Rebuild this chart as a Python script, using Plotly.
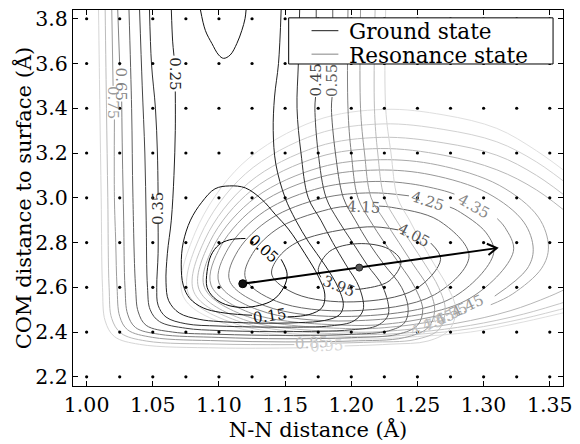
import math
import plotly.graph_objects as go

# ---------------------------------------------------------------
# Sampling grid of the two potential energy surfaces
# ---------------------------------------------------------------
grid_x = [1.000, 1.025, 1.050, 1.075, 1.100, 1.125, 1.150, 1.175,
          1.200, 1.225, 1.250, 1.275, 1.300, 1.325, 1.350]
grid_y = [2.2, 2.4, 2.6, 2.8, 3.0, 3.2, 3.4, 3.6, 3.8]

x_ticks = [1.00, 1.05, 1.10, 1.15, 1.20, 1.25, 1.30, 1.35]
x_ticktext = ["1.00", "1.05", "1.10", "1.15", "1.20", "1.25", "1.30", "1.35"]
y_ticks = [2.2, 2.4, 2.6, 2.8, 3.0, 3.2, 3.4, 3.6, 3.8]
y_ticktext = ["2.2", "2.4", "2.6", "2.8", "3.0", "3.2", "3.4", "3.6", "3.8"]

GAP = None  # break in an isoline where its inline label sits

# ---------------------------------------------------------------
# Ground state isolines (eV), traced (x = N-N, y = COM height)
# ---------------------------------------------------------------
ground_005 = [(1.147, 2.725), (1.1515, 2.66), (1.149, 2.60), (1.14, 2.54), (1.12, 2.51),
              (1.105, 2.523), (1.096, 2.555), (1.091, 2.60), (1.091, 2.67), (1.094, 2.743),
              (1.10, 2.79), (1.108, 2.812), (1.12, 2.818)]
ground_015 = [(1.152, 2.468), (1.168, 2.478), (1.178, 2.51), (1.18, 2.57), (1.175, 2.65),
              (1.165, 2.75), (1.1525, 2.86), (1.1425, 2.926), (1.1325, 2.992), (1.12, 3.044),
              (1.108, 3.053), (1.097, 3.04), (1.087, 2.98), (1.0785, 2.90), (1.073, 2.80),
              (1.0715, 2.70), (1.073, 2.61), (1.078, 2.55), (1.088, 2.508), (1.101, 2.488),
              (1.114, 2.479), (1.125, 2.475), GAP,
              (1.086, 3.84), (1.0897, 3.748), (1.0947, 3.689), (1.0998, 3.638), (1.1035, 3.623),
              (1.1085, 3.638), (1.1135, 3.689), (1.1173, 3.748), (1.1197, 3.80), (1.1205, 3.84)]
ground_025 = [(1.064, 3.84), (1.065, 3.70), (1.066, 3.635), GAP, (1.067, 3.475), (1.067, 3.30),
              (1.066, 3.10), (1.064, 2.90), (1.061, 2.75), (1.060, 2.62), (1.062, 2.54),
              (1.070, 2.485), (1.085, 2.457), (1.10, 2.447), (1.13, 2.44), (1.16, 2.442),
              (1.18, 2.452), (1.191, 2.477), (1.194, 2.52), (1.19, 2.60), (1.18, 2.70),
              (1.168, 2.80), (1.158, 2.90), (1.15, 3.00), (1.143, 3.15), (1.141, 3.30),
              (1.142, 3.45), (1.145, 3.60), (1.147, 3.84)]
ground_035 = [(1.0475, 3.84), (1.049, 3.60), (1.052, 3.40), (1.0535, 3.20), (1.054, 3.015), GAP,
              (1.054, 2.885), (1.054, 2.75), (1.053, 2.60), (1.054, 2.52), (1.06, 2.467),
              (1.075, 2.437), (1.10, 2.427), (1.15, 2.422), (1.185, 2.428), (1.202, 2.45),
              (1.209, 2.50), (1.206, 2.60), (1.196, 2.70), (1.186, 2.80), (1.177, 2.90),
              (1.1675, 3.00), (1.162, 3.20), (1.159, 3.40), (1.16, 3.60), (1.161, 3.84)]
ground_045 = [(1.040, 3.84), (1.042, 3.50), (1.044, 3.20), (1.045, 2.90), (1.046, 2.60),
              (1.048, 2.50), (1.055, 2.447), (1.075, 2.417), (1.10, 2.407), (1.15, 2.402),
              (1.20, 2.41), (1.22, 2.43), (1.228, 2.48), (1.224, 2.60), (1.212, 2.70),
              (1.201, 2.80), (1.19, 2.90), (1.181, 3.00), (1.175, 3.20), (1.1725, 3.40),
              (1.173, 3.45), GAP, (1.1735, 3.60), (1.1735, 3.84)]
ground_055 = [(1.032, 3.84), (1.034, 3.40), (1.035, 3.00), (1.037, 2.60), (1.039, 2.49),
              (1.045, 2.43), (1.065, 2.40), (1.10, 2.39), (1.15, 2.385), (1.20, 2.39),
              (1.228, 2.405), (1.24, 2.44), (1.243, 2.50), (1.238, 2.60), (1.225, 2.70),
              (1.213, 2.80), (1.203, 2.90), (1.194, 3.00), (1.188, 3.20), (1.185, 3.40),
              (1.1855, 3.45), GAP, (1.186, 3.60), (1.186, 3.84)]
ground_065 = [(1.0235, 3.84), (1.025, 3.59), GAP, (1.0265, 3.43), (1.027, 3.20), (1.028, 2.90),
              (1.029, 2.60), (1.031, 2.48), (1.037, 2.42), (1.055, 2.39), (1.10, 2.376),
              (1.15, 2.37), (1.20, 2.375), (1.235, 2.39), (1.25, 2.43), (1.254, 2.50),
              (1.248, 2.60), (1.237, 2.70), (1.225, 2.80), (1.214, 2.90), (1.205, 3.00),
              (1.20, 3.20), (1.1975, 3.40), (1.1975, 3.84)]
ground_075 = [(1.019, 3.84), (1.02, 3.50), GAP, (1.021, 3.35), (1.021, 3.00), (1.022, 2.80),
              (1.023, 2.60), (1.025, 2.47), (1.031, 2.41), (1.05, 2.376), (1.10, 2.361),
              (1.15, 2.356), (1.20, 2.36), (1.24, 2.375), (1.258, 2.42), (1.263, 2.50),
              (1.258, 2.60), (1.247, 2.70), (1.236, 2.80), (1.225, 2.90), (1.215, 3.00),
              (1.21, 3.20), (1.207, 3.40), (1.207, 3.84)]
ground_085 = [(1.014, 3.84), (1.015, 3.40), (1.016, 3.00), (1.017, 2.60), (1.019, 2.46),
              (1.026, 2.395), (1.045, 2.36), (1.10, 2.346), (1.157, 2.344), GAP,
              (1.184, 2.35), (1.215, 2.355), (1.248, 2.366), (1.266, 2.41), (1.271, 2.50),
              (1.266, 2.60), (1.256, 2.70), (1.245, 2.80), (1.234, 2.90), (1.225, 3.00),
              (1.22, 3.20), (1.2175, 3.40), (1.218, 3.84)]
ground_095 = [(1.009, 3.84), (1.010, 3.40), (1.011, 3.00), (1.012, 2.60), (1.014, 2.45),
              (1.021, 2.38), (1.04, 2.345), (1.10, 2.329), (1.167, 2.33), GAP,
              (1.195, 2.338), (1.23, 2.346), (1.258, 2.36), (1.274, 2.41), (1.279, 2.50),
              (1.273, 2.60), (1.263, 2.70), (1.253, 2.80), (1.244, 2.90), (1.235, 3.00),
              (1.23, 3.20), (1.226, 3.40), (1.226, 3.84)]

ground_levels = ["0.05", "0.15", "0.25", "0.35", "0.45", "0.55", "0.65", "0.75", "0.85", "0.95"]
ground_paths = [ground_005, ground_015, ground_025, ground_035, ground_045,
                ground_055, ground_065, ground_075, ground_085, ground_095]
ground_colors = ["#000000", "#121212", "#222222", "#303030", "#444444",
                 "#5e5e5e", "#828282", "#9c9c9c", "#bcbcbc", "#d6d6d6"]
ground_label_xy = [(1.134, 2.772), (1.1385, 2.470), (1.067, 3.555), (1.054, 2.950), (1.1735, 3.525),
                   (1.186, 3.525), (1.026, 3.510), (1.0205, 3.425), (1.170, 2.349), (1.181, 2.336)]
ground_label_angle = [42, -8, 90, -90, -90, -90, 90, 90, -3, -3]

# ---------------------------------------------------------------
# Resonance state isolines (eV)
# ---------------------------------------------------------------
res_395 = [(1.177, 2.645), (1.175, 2.68), (1.1838, 2.7613), (1.205, 2.795), (1.228, 2.772),
           (1.2375, 2.715), (1.2286, 2.628), (1.207, 2.592), (1.203, 2.5915)]
res_405 = [(1.2601, 2.7975), (1.2675, 2.725), (1.2483, 2.5907), (1.202, 2.535), (1.1582, 2.5702),
           (1.14, 2.655), (1.1443, 2.7285), (1.1611, 2.807), (1.212, 2.87), (1.2355, 2.8564)]
res_415 = [(1.221, 2.9628), (1.2305, 2.9573), (1.2659, 2.899), (1.289, 2.74), (1.2629, 2.5668),
           (1.2, 2.495), (1.1434, 2.5375), (1.12, 2.64), (1.1254, 2.751), (1.1464, 2.8698),
           (1.1867, 2.9539), (1.1975, 2.9618)]
res_425 = [(1.2745, 2.9584), (1.2804, 2.9423), (1.302, 2.843), (1.3075, 2.75), (1.276, 2.552),
           (1.2, 2.47), (1.1349, 2.5169), (1.108, 2.63), (1.1144, 2.764), (1.1393, 2.9072),
           (1.1784, 2.9985), (1.215, 3.022), (1.2436, 3.0087)]
res_435 = [(1.3103, 2.9068), (1.3162, 2.867), (1.3225, 2.76), (1.2866, 2.5408), (1.2, 2.45),
           (1.1293, 2.4998), (1.10, 2.62), (1.1071, 2.7749), (1.1346, 2.9403), (1.1776, 3.0457),
           (1.218, 3.073), (1.245, 3.0623), (1.2703, 3.0311), (1.278, 3.0163)]
res_445 = [(1.3084, 2.5606), (1.3328, 2.6819), (1.3375, 2.77), (1.3304, 2.891), (1.3031, 3.0203),
           (1.2602, 3.1027), (1.22, 3.124), (1.1769, 3.093), (1.1309, 2.9734), (1.1016, 2.7858),
           (1.094, 2.61), (1.125, 2.4827), (1.2, 2.43), (1.2356, 2.4416), (1.2749, 2.4848)]
res_455 = [(1.3054, 2.5219), (1.322, 2.5705), (1.3439, 2.6855), (1.349, 2.78), (1.3414, 2.9134),
           (1.3118, 3.0558), (1.2654, 3.1465), (1.222, 3.17), (1.1765, 3.1358), (1.128, 3.003),
           (1.097, 2.795), (1.089, 2.60), (1.1215, 2.4692), (1.2, 2.415), (1.2386, 2.4274),
           (1.263, 2.4493)]
res_465 = [(1.37, 2.90), (1.34, 3.035), (1.31, 3.125), (1.27, 3.19), (1.222, 3.22),
           (1.1751, 3.182), (1.1251, 3.0355), (1.0933, 2.8055), (1.085, 2.59), (1.1187, 2.4557),
           (1.2, 2.40), (1.24, 2.41), (1.28, 2.44), (1.32, 2.495), (1.35, 2.56), (1.37, 2.615)]
res_475 = [(1.37, 2.97), (1.34, 3.10), (1.31, 3.19), (1.27, 3.245), (1.223, 3.27),
           (1.1744, 3.2284), (1.1226, 3.0679), (1.0896, 2.816), (1.081, 2.58), (1.1159, 2.4457),
           (1.2, 2.39), (1.25, 2.40), (1.29, 2.43), (1.33, 2.48), (1.37, 2.55)]
res_485 = [(1.37, 3.03), (1.34, 3.16), (1.31, 3.25), (1.27, 3.305), (1.224, 3.33),
           (1.1737, 3.2842), (1.1201, 3.1074), (1.0859, 2.8299), (1.077, 2.57), (1.113, 2.4357),
           (1.2, 2.38), (1.25, 2.39), (1.29, 2.415), (1.33, 2.46), (1.37, 2.52)]
res_495 = [(1.37, 3.08), (1.34, 3.21), (1.31, 3.31), (1.27, 3.37), (1.225, 3.395),
           (1.173, 3.3447), (1.1175, 3.1504), (1.0821, 2.8456), (1.073, 2.56), (1.1102, 2.4257),
           (1.2, 2.37), (1.25, 2.38), (1.29, 2.40), (1.33, 2.445), (1.37, 2.50)]

res_levels = ["3.95", "4.05", "4.15", "4.25", "4.35", "4.45", "4.55", "4.65", "4.75", "4.85", "4.95"]
res_paths = [res_395, res_405, res_415, res_425, res_435, res_445,
             res_455, res_465, res_475, res_485, res_495]
res_colors = ["#404040", "#555555", "#686868", "#787878", "#888888", "#989898",
              "#a8a8a8", "#b7b7b7", "#c5c5c5", "#d2d2d2", "#dfdfdf"]
res_label_xy = [(1.190, 2.604), (1.247, 2.832), (1.209, 2.958), (1.2575, 2.985), (1.292, 2.962),
                (1.288, 2.515), (1.276, 2.480), (1.266, 2.452), (1.257, 2.428), None, None]
res_label_angle = [22, 28, 3, 18, 30, -25, -25, -22, -20, 0, 0]

# Minima and the displacement between them
ground_min = (1.118, 2.616)
res_min = (1.206, 2.688)
arrow_tip = (1.31, 2.775)

legend_names = ["Ground state", "Resonance state"]
legend_colors = ["#444444", "#999999"]

# ---------------------------------------------------------------
X_RANGE = [0.9897, 1.360]
Y_RANGE = [2.159, 3.839]
W, H = 580, 444
M = dict(l=73, r=14, t=7, b=54)
SERIF = "DejaVu Serif"
plot_w = W - M["l"] - M["r"]
plot_h = H - M["t"] - M["b"]

fig = go.Figure()


def add_path(path, color, width=1.0):
    xs = [p[0] if p is not None else None for p in path]
    ys = [p[1] if p is not None else None for p in path]
    fig.add_trace(go.Scatter(x=xs, y=ys, mode="lines",
                             line=dict(color=color, width=width, shape="spline", smoothing=1.0),
                             connectgaps=False, showlegend=False, hoverinfo="skip"))


for path, col in zip(res_paths, res_colors):
    add_path(path, col)
for path, col in zip(ground_paths, ground_colors):
    add_path(path, col)

# inline isoline labels
for txt, pos, ang, col in zip(res_levels, res_label_xy, res_label_angle, res_colors):
    if pos is None:
        continue
    fig.add_annotation(x=pos[0], y=pos[1], text=txt, showarrow=False, textangle=ang,
                       font=dict(family=SERIF, size=15, color=col))
for txt, pos, ang, col in zip(ground_levels, ground_label_xy, ground_label_angle, ground_colors):
    fig.add_annotation(x=pos[0], y=pos[1], text=txt, showarrow=False, textangle=ang,
                       font=dict(family=SERIF, size=15, color=col))

# sample points
gx, gy = [], []
for yv in grid_y:
    for xv in grid_x:
        gx.append(xv)
        gy.append(yv)
fig.add_trace(go.Scatter(x=gx, y=gy, mode="markers",
                         marker=dict(color="black", size=3.2),
                         showlegend=False, hoverinfo="skip"))

# displacement arrow (shaft + open head built in screen space)
fig.add_trace(go.Scatter(x=[ground_min[0], arrow_tip[0]], y=[ground_min[1], arrow_tip[1]],
                         mode="lines", line=dict(color="black", width=2),
                         showlegend=False, hoverinfo="skip"))
sx = plot_w / (X_RANGE[1] - X_RANGE[0])
sy = plot_h / (Y_RANGE[1] - Y_RANGE[0])
ang = math.atan2((arrow_tip[1] - ground_min[1]) * sy, (arrow_tip[0] - ground_min[0]) * sx)
head_len, head_half = 11.0, math.radians(32)
hx, hy = [], []
for s in (1, -1):
    a = ang + math.pi + s * head_half
    hx.append(arrow_tip[0] + head_len * math.cos(a) / sx)
    hy.append(arrow_tip[1] + head_len * math.sin(a) / sy)
fig.add_trace(go.Scatter(x=[hx[0], arrow_tip[0], hx[1]], y=[hy[0], arrow_tip[1], hy[1]],
                         mode="lines", line=dict(color="black", width=2),
                         showlegend=False, hoverinfo="skip"))

# the two minima
fig.add_trace(go.Scatter(x=[ground_min[0]], y=[ground_min[1]], mode="markers",
                         marker=dict(color="#111111", size=8, line=dict(color="black", width=1)),
                         showlegend=False, hoverinfo="skip"))
fig.add_trace(go.Scatter(x=[res_min[0]], y=[res_min[1]], mode="markers",
                         marker=dict(color="#555555", size=7, line=dict(color="#222222", width=1)),
                         showlegend=False, hoverinfo="skip"))


# legend box drawn in pixel space of the plot area
def px_x(p):
    return (p - M["l"]) / plot_w


def px_y(p):
    return (H - M["b"] - p) / plot_h


fig.add_shape(type="rect", xref="paper", yref="paper", layer="above",
              x0=px_x(290), x1=px_x(556), y0=px_y(62), y1=px_y(15),
              fillcolor="white", line=dict(color="black", width=1))
for i, (name, col) in enumerate(zip(legend_names, legend_colors)):
    row = 28 + 24 * i
    fig.add_shape(type="line", xref="paper", yref="paper", layer="above",
                  x0=px_x(313), x1=px_x(340), y0=px_y(row), y1=px_y(row),
                  line=dict(color=col, width=1.2))
    fig.add_annotation(xref="paper", yref="paper", x=px_x(349), y=px_y(row + 1),
                       xanchor="left", yanchor="middle", text=name, showarrow=False,
                       font=dict(family=SERIF, size=21.5, color="black"))

# y-axis title
fig.add_annotation(xref="paper", yref="paper", x=px_x(23), y=0.5, textangle=-90,
                   xanchor="center", yanchor="middle", showarrow=False,
                   text="COM distance to surface (Å)",
                   font=dict(family=SERIF, size=21, color="black"))

axis_common = dict(showgrid=False, zeroline=False, showline=True, linecolor="black",
                   linewidth=1.3, mirror="ticks", ticks="inside", ticklen=5, tickwidth=1,
                   tickcolor="black", tickfont=dict(family=SERIF, size=20.5, color="black"))

fig.update_layout(
    width=W, height=H, margin=M, autosize=False,
    paper_bgcolor="white", plot_bgcolor="white",
    xaxis=dict(range=X_RANGE, tickvals=x_ticks, ticktext=x_ticktext,
               title=dict(text="N-N distance (Å)", font=dict(family=SERIF, size=21, color="black"),
                          standoff=6),
               **axis_common),
    yaxis=dict(range=Y_RANGE, tickvals=y_ticks, ticktext=y_ticktext, **axis_common),
    showlegend=False,
)

fig.write_html("out.html")
